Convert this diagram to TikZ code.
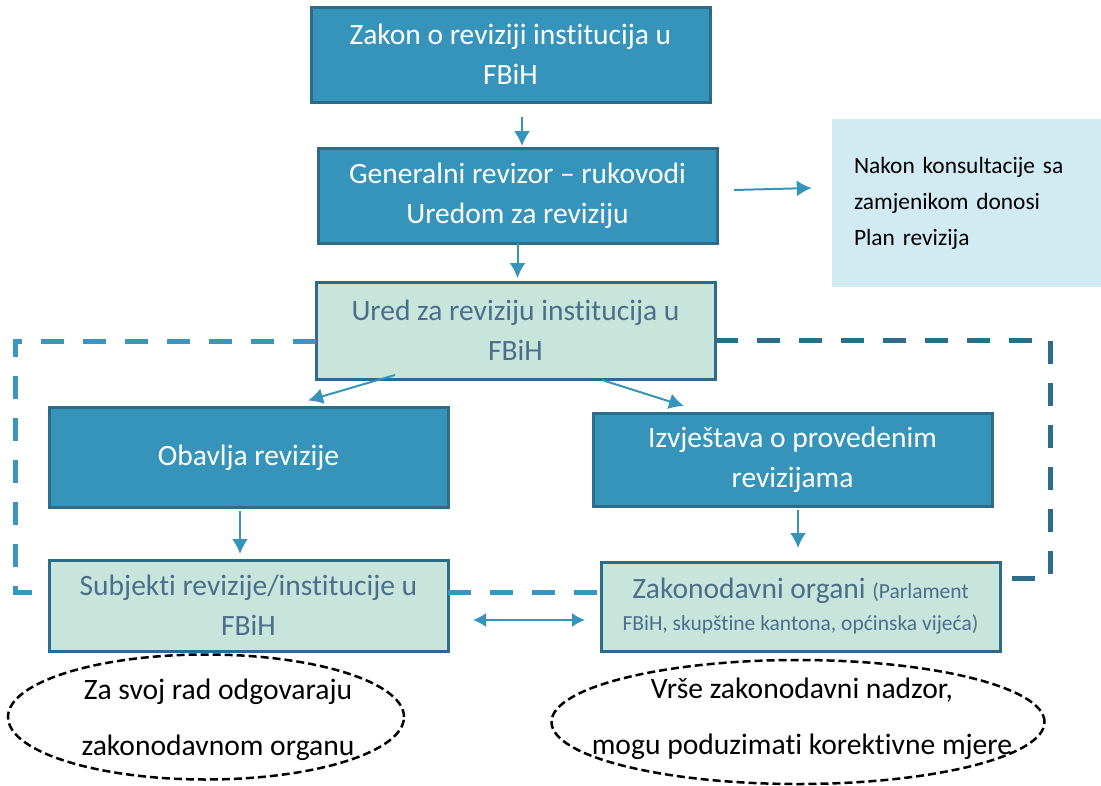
\documentclass[tikz,border=0pt]{standalone}
\usepackage{fontspec}
\setmainfont{Carlito}[Ligatures={TeX,NoCommon}]
\usepackage{xcolor}
\usepackage{tikz}
\usetikzlibrary{shapes.geometric,arrows.meta,positioning}
\definecolor{boxblue}{HTML}{3694BA}
\definecolor{boxedge}{HTML}{2C6C89}
\definecolor{boxgreen}{HTML}{C8E5DB}
\definecolor{greentext}{HTML}{4A6E8C}
\definecolor{noteblue}{HTML}{D2EAF2}
\definecolor{dashdark}{HTML}{2C6E8A}
\definecolor{dashlight}{HTML}{3A96C0}

\begin{document}
\begin{tikzpicture}[
    x=1pt, y=-1pt,
    darkbox/.style={rectangle, draw=boxedge, line width=3pt, fill=boxblue, text=white, minimum width=399pt, minimum height=95pt, inner sep=0pt, outer sep=0pt, align=center, font=\fontsize{29.5}{40}\selectfont},
    lightbox/.style={darkbox, fill=boxgreen, text=greentext},
    notebox/.style={rectangle, fill=noteblue, minimum width=269pt, minimum height=168pt, text width=225pt, inner xsep=22pt, inner ysep=0pt, align=left, font=\fontsize{23.4}{36}\selectfont},
    ovalbox/.style={ellipse, draw=black, line width=2.5pt, dash pattern=on 8pt off 4pt, inner sep=0pt},
    ovaltext/.style={align=center, font=\fontsize{29.6}{56}\selectfont},
    arr/.style={-{Latex[length=15pt,width=16pt]}, draw=boxblue, line width=2pt},
    dblarr/.style={{Latex[length=13pt,width=14pt]}-{Latex[length=13pt,width=14pt]}, draw=boxblue, line width=1.5pt},
    dashframe/.style={line width=5pt, dash pattern=on 23pt off 19pt}
]
\useasboundingbox (0,0) rectangle (1101,785);

\node[darkbox] (zakon) at (510.5,54.5) {Zakon o reviziji institucija u\\FBiH};
\node[darkbox, below=46pt of zakon, xshift=7pt] (gen) {Generalni revizor – rukovodi\\Uredom za reviziju};
\node[lightbox, below=39pt of gen, xshift=-2pt, minimum height=97pt] (ured) {Ured za reviziju institucija u\\FBiH};
\node[notebox] (nakon) at (966.5,203) {Nakon konsultacije sa\\zamjenikom donosi\\Plan revizija};

\node[darkbox, minimum height=100pt] (obavlja) at (248.5,457.5) {Obavlja revizije};
\node[darkbox, minimum height=93pt] (izvj) at (792.5,459.5) {Izvještava o provedenim\\revizijama};
\node[lightbox, below=52.5pt of obavlja, minimum height=91pt] (subj) {Subjekti revizije/institucije u\\FBiH};
\node[lightbox, below=56pt of izvj, xshift=8pt, minimum height=89pt, font=\fontsize{29.5}{32}\selectfont] (zak) {Zakonodavni organi {\fontsize{21.5}{32}\selectfont(Parlament}\\{\fontsize{21.5}{32}\selectfont FBiH, skupštine kantona, općinska vijeća)}};

\node[ovalbox, minimum width=396pt, minimum height=125pt] (odgE) at (206,717) {};
\node[ovaltext] (odgT) at (218,720) {Za svoj rad odgovaraju\\zakonodavnom organu};
\node[ovalbox, minimum width=493pt, minimum height=124pt] (nadE) at (798,722) {};
\node[ovaltext] (nadT) at (802,719) {Vrše zakonodavni nadzor,\\mogu poduzimati korektivne mjere};

\draw[dashframe, dashlight] ([yshift=-10.5pt]ured.west) -| ([xshift=-34pt,yshift=13.5pt]subj.west) -- ([yshift=13.5pt]subj.west);
\draw[dashframe, dashlight] ([yshift=13.5pt]subj.east) -- ([yshift=14.5pt]zak.west);
\draw[dashframe, dashdark] ([yshift=-9.5pt]ured.east) -| ([xshift=50pt,yshift=28.5pt]zak.east) -- ([yshift=28.5pt]zak.east);

\draw[arr] ([xshift=11.5pt,yshift=-15pt]zakon.south) -- ([xshift=4.5pt,yshift=2pt]gen.north);
\draw[arr, shorten >=4pt] (gen.south) -- (gen.south |- ured.north);
\draw[arr] ([xshift=17pt,yshift=5.5pt]gen.east) -- ([xshift=-20pt,yshift=15pt]nakon.west);
\draw[arr] ([xshift=-120.5pt,yshift=4pt]ured.south) -- ([xshift=59.5pt,yshift=7pt]obavlja.north);
\draw[arr] ([xshift=86.5pt,yshift=-1pt]ured.south) -- ([xshift=-108.5pt,yshift=7pt]izvj.north);
\draw[arr] ([xshift=-8.5pt,yshift=-3pt]obavlja.south) -- ([xshift=-8.5pt,yshift=6pt]subj.north);
\draw[arr] ([xshift=5.5pt,yshift=-4pt]izvj.south) -- ([xshift=-2.5pt,yshift=14pt]zak.north);
\draw[dblarr] ([xshift=25pt,yshift=-14.5pt]subj.east) -- ([xshift=-16pt,yshift=-13.5pt]zak.west);
\end{tikzpicture}
\end{document}
